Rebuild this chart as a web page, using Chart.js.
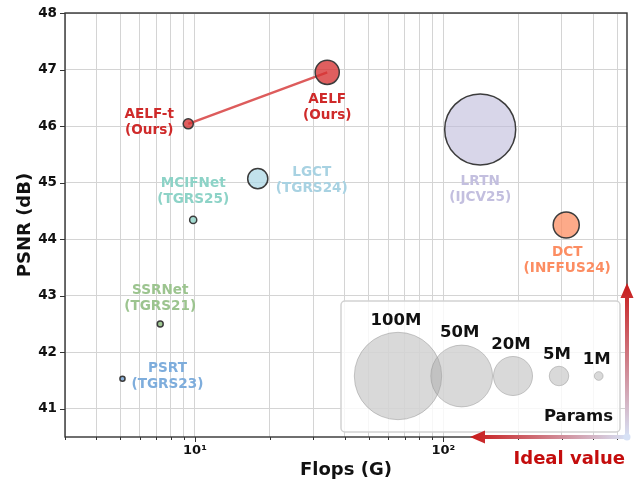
<!DOCTYPE html>
<html>
<head>
<meta charset="utf-8">
<script src="https://cdn.jsdelivr.net/npm/chart.js@4/dist/chart.umd.min.js"></script>
<style>
  html, body { margin: 0; padding: 0; background: #ffffff; }
  #wrap { width: 641px; height: 485px; }
</style>
</head>
<body>
<div id="wrap"><canvas id="c" width="641" height="485"></canvas></div>
<script>
// ---- data ----
const methods = ['AELF-t', 'AELF', 'MCIFNet', 'LGCT', 'LRTN', 'DCT', 'SSRNet', 'PSRT'];
const venues  = ['(Ours)', '(Ours)', '(TGRS25)', '(TGRS24)', '(IJCV25)', '(INFFUS24)', '(TGRS21)', '(TGRS23)'];
const flops   = [9.4, 34.07, 9.84, 17.9, 140.6, 312, 7.25, 5.11];       // G
const psnr    = [46.04, 46.95, 44.34, 45.07, 45.94, 44.25, 42.50, 41.53]; // dB
const params  = [1.34, 7.6, 0.66, 5.3, 66, 8.9, 0.46, 0.34];             // M
const legendParams = [100, 50, 20, 5, 1];
const legendLabels = ['100M', '50M', '20M', '5M', '1M'];
const yTicks = [41, 42, 43, 44, 45, 46, 47, 48];
const xTicks = [3, 4, 5, 6, 7, 8, 9, 10, 20, 30, 40, 50, 60, 70, 80, 90, 100, 200, 300, 400, 500];

// ---- styling ----
const FONT = '"DejaVu Sans", "Liberation Sans", sans-serif';
const fills  = ['rgba(214,50,50,0.78)', 'rgba(214,50,50,0.78)', 'rgba(141,211,199,0.8)', 'rgba(173,216,230,0.75)',
                'rgba(190,186,218,0.6)', 'rgba(252,141,98,0.75)', 'rgba(150,195,135,0.9)', 'rgba(128,170,215,0.9)'];
const textColors = ['#cf2a2a', '#cf2a2a', '#8dd3c7', '#a8d2e2', '#c3bfdf', '#fc8d62', '#9cc48f', '#7eaddc'];
// label block centre relative to the marker centre (px)
const labelShift = [[-39, -1], [0, 35], [0, -28], [54, 1.5], [0, 60], [1, 35], [0, -25], [45, -2]];

// marker area grows with parameter count
const radiusFor = p => 4.37 * Math.sqrt(p);

const bubbleSets = methods.map((m, i) => ({
  label: m,
  data: [{ x: flops[i], y: psnr[i], r: radiusFor(params[i]) }],
  backgroundColor: fills[i],
  borderColor: '#3c3c3c',
  borderWidth: 1.5,
  clip: false,
  order: 1
}));

const linkSet = {
  type: 'line',
  label: 'AELF link',
  data: [{ x: flops[0], y: psnr[0] }, { x: flops[1], y: psnr[1] }],
  borderColor: '#dd5c5c',
  borderWidth: 2.5,
  pointRadius: 0,
  fill: false,
  order: 5
};

// text labels beside each marker
const labelPlugin = {
  id: 'pointLabels',
  afterDatasetsDraw(chart) {
    const ctx = chart.ctx, xs = chart.scales.x, ys = chart.scales.y;
    ctx.save();
    ctx.font = 'bold 13.6px ' + FONT;
    ctx.textAlign = 'center';
    ctx.textBaseline = 'middle';
    methods.forEach((m, i) => {
      const px = xs.getPixelForValue(flops[i]) + labelShift[i][0];
      const py = ys.getPixelForValue(psnr[i]) + labelShift[i][1];
      ctx.fillStyle = textColors[i];
      ctx.fillText(m, px, py - 8);
      ctx.fillText(venues[i], px, py + 8);
    });
    ctx.restore();
  }
};

// frame, tick marks, axis titles, size key and the "ideal value" arrows
const framePlugin = {
  id: 'frame',
  afterDraw(chart) {
    const ctx = chart.ctx, a = chart.chartArea, xs = chart.scales.x, ys = chart.scales.y;
    ctx.save();

    // size key
    const bx = 341, by = 301, bw = 279, bh = 131;
    ctx.beginPath();
    ctx.roundRect(bx, by, bw, bh, 4);
    ctx.fillStyle = 'rgba(255,255,255,0.8)';
    ctx.fill();
    ctx.strokeStyle = '#d2d2d2';
    ctx.lineWidth = 1.5;
    ctx.stroke();
    const keyX = [398, 461.7, 513, 559, 598.7];
    const keyY = 376;
    legendParams.forEach((p, i) => {
      const r = radiusFor(p);
      ctx.beginPath();
      ctx.arc(keyX[i], keyY, r, 0, Math.PI * 2);
      ctx.fillStyle = 'rgba(160,160,160,0.4)';
      ctx.fill();
      ctx.strokeStyle = 'rgba(140,140,140,0.45)';
      ctx.lineWidth = 1;
      ctx.stroke();
      ctx.fillStyle = '#111';
      ctx.font = 'bold 16.5px ' + FONT;
      ctx.textAlign = 'center';
      ctx.textBaseline = 'middle';
      ctx.fillText(legendLabels[i], keyX[i] - 2, keyY - r - 12);
    });
    ctx.textAlign = 'right';
    ctx.fillText('Params', 613, 417);

    // frame
    ctx.strokeStyle = '#333';
    ctx.lineWidth = 1.4;
    ctx.strokeRect(a.left, a.top, a.right - a.left, a.bottom - a.top);

    // tick marks
    ctx.lineWidth = 1;
    ctx.strokeStyle = '#333';
    yTicks.forEach(v => {
      const y = Math.round(ys.getPixelForValue(v)) + 0.5;
      ctx.beginPath(); ctx.moveTo(a.left - 5, y); ctx.lineTo(a.left, y); ctx.stroke();
    });
    xTicks.forEach(v => {
      const x = Math.round(xs.getPixelForValue(v)) + 0.5;
      const len = (v === 10 || v === 100) ? 5 : 3;
      ctx.beginPath(); ctx.moveTo(x, a.bottom); ctx.lineTo(x, a.bottom + len); ctx.stroke();
    });

    // axis titles
    ctx.fillStyle = '#111';
    ctx.font = 'bold 18px ' + FONT;
    ctx.textAlign = 'center';
    ctx.textBaseline = 'middle';
    ctx.fillText('Flops (G)', (a.left + a.right) / 2, 470);
    ctx.save();
    ctx.translate(25.5, (a.top + a.bottom) / 2);
    ctx.rotate(-Math.PI / 2);
    ctx.fillText('PSNR (dB)', 0, 0);
    ctx.restore();

    // arrows pointing to the ideal corner
    const cx = a.right, cy = a.bottom;
    const drawArrow = (tx, ty) => {
      const g = ctx.createLinearGradient(cx, cy, tx, ty);
      g.addColorStop(0, 'rgba(215,225,245,1)');
      g.addColorStop(1, 'rgba(200,25,25,1)');
      const dx = tx - cx, dy = ty - cy, L = Math.hypot(dx, dy);
      const ux = dx / L, uy = dy / L, nx = -uy, ny = ux;
      const head = 15, hw = 6.5, sw = 2;
      const hx = tx - ux * head, hy = ty - uy * head;
      ctx.beginPath();
      ctx.moveTo(cx + nx * sw, cy + ny * sw);
      ctx.lineTo(hx + nx * sw, hy + ny * sw);
      ctx.lineTo(hx + nx * hw, hy + ny * hw);
      ctx.lineTo(tx, ty);
      ctx.lineTo(hx - nx * hw, hy - ny * hw);
      ctx.lineTo(hx - nx * sw, hy - ny * sw);
      ctx.lineTo(cx - nx * sw, cy - ny * sw);
      ctx.closePath();
      ctx.fillStyle = g;
      ctx.fill();
    };
    drawArrow(cx, 283);
    drawArrow(470, cy);
    ctx.beginPath();
    ctx.arc(cx, cy, 3.5, 0, Math.PI * 2);
    ctx.fillStyle = 'rgb(215,225,245)';
    ctx.fill();

    ctx.fillStyle = '#c40d0d';
    ctx.font = 'bold 18px ' + FONT;
    ctx.textAlign = 'right';
    ctx.fillText('Ideal value', 625, 459.5);

    ctx.restore();
  }
};

new Chart(document.getElementById('c'), {
  type: 'bubble',
  data: { datasets: [linkSet, ...bubbleSets] },
  options: {
    responsive: false,
    animation: false,
    events: [],
    layout: { autoPadding: false, padding: { top: 13, right: 14, left: 0, bottom: 0 } },
    plugins: { legend: { display: false }, tooltip: { enabled: false } },
    scales: {
      x: {
        type: 'logarithmic',
        min: 3,
        max: 548,
        afterBuildTicks: s => { s.ticks = xTicks.map(v => ({ value: v })); },
        afterFit: s => { s.height = 48; s.paddingLeft = 0; s.paddingRight = 0; },
        grid: { color: '#d4d4d4', lineWidth: 1, drawTicks: false },
        border: { display: false },
        ticks: {
          autoSkip: false,
          maxRotation: 0,
          padding: 6,
          color: '#111',
          font: { family: FONT, weight: 'bold', size: 13 },
          callback: v => v === 10 ? '10\u00B9' : (v === 100 ? '10\u00B2' : '')
        }
      },
      y: {
        type: 'linear',
        min: 40.5,
        max: 48,
        afterBuildTicks: s => { s.ticks = yTicks.map(v => ({ value: v })); },
        afterFit: s => { s.width = 65; s.paddingTop = 0; s.paddingBottom = 0; },
        grid: { color: '#d4d4d4', lineWidth: 1, drawTicks: false },
        border: { display: false },
        ticks: {
          padding: 8,
          color: '#111',
          font: { family: FONT, weight: 'bold', size: 13.5 },
          callback: v => String(v)
        }
      }
    }
  },
  plugins: [labelPlugin, framePlugin]
});
</script>
</body>
</html>
